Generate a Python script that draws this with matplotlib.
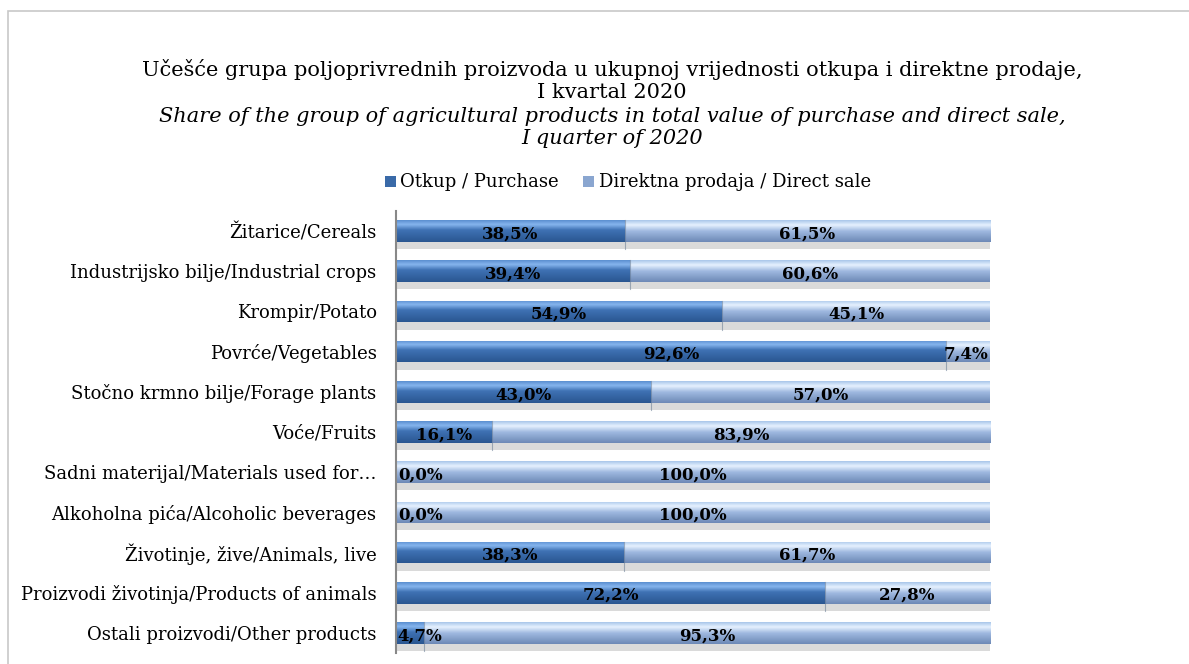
import matplotlib.pyplot as plt
import numpy as np

categories = ["Žitarice/Cereals", "Industrijsko bilje/Industrial crops", "Krompir/Potato",
              "Povrće/Vegetables", "Stočno krmno bilje/Forage plants", "Voće/Fruits",
              "Sadni materijal/Materials used for…", "Alkoholna pića/Alcoholic beverages",
              "Životinje, žive/Animals, live", "Proizvodi životinja/Products of animals",
              "Ostali proizvodi/Other products"]
purchase = [38.5, 39.4, 54.9, 92.6, 43.0, 16.1, 0.0, 0.0, 38.3, 72.2, 4.7]
direct = [61.5, 60.6, 45.1, 7.4, 57.0, 83.9, 100.0, 100.0, 61.7, 27.8, 95.3]

plt.rcParams['font.family'] = ['DejaVu Serif']

fig = plt.figure(figsize=(11.89, 6.64), dpi=100)
ax = fig.add_axes([396 / 1189, 11 / 664, 594 / 1189, 442 / 664])

# frame around the whole chart
fig.patches.append(plt.Rectangle((8 / 1189, -0.01), 1.2, 1 - 11 / 664 + 0.01, transform=fig.transFigure,
                                 fill=False, edgecolor="#c8c8c8", linewidth=1.2))

def vgrad(stops, n=64):
    pos = [s[0] for s in stops]
    cols = np.array([plt.matplotlib.colors.to_rgb(s[1]) for s in stops])
    t = np.linspace(0, 1, n)
    out = np.stack([np.interp(t, pos, cols[:, k]) for k in range(3)], axis=1)
    return out[:, None, :]

g_purch = vgrad([(0, "#5b8fd0"), (0.2, "#86b5ee"), (0.45, "#3f72b4"), (1, "#2a5690")])
g_direct = vgrad([(0, "#a9c6ea"), (0.22, "#e6f1ff"), (0.5, "#9fb9e0"), (1, "#6d89b6")])

def fmt(v):
    return f"{v:.1f}%".replace(".", ",")

y = np.arange(len(categories))
h = 0.54
sh = 0.18
for i in range(len(categories)):
    left = 0
    for val, grad in ((purchase[i], g_purch), (direct[i], g_direct)):
        if val > 0:
            # shadow under the bar
            ax.add_patch(plt.Rectangle((left, y[i] + h / 2), val, sh, facecolor="#dadada",
                                       edgecolor="none", zorder=1))
            rect = plt.Rectangle((left, y[i] - h / 2), val, h, facecolor="none", edgecolor="none")
            ax.add_patch(rect)
            im = ax.imshow(grad, extent=(left, left + val, y[i] + h / 2, y[i] - h / 2),
                           aspect="auto", zorder=2, interpolation="bilinear")
            im.set_clip_path(rect)
            if left > 0:
                ax.plot([left, left], [y[i] - h / 2, y[i] + h / 2 + sh], color="#5a6f8a",
                        linewidth=0.8, alpha=0.5, zorder=3)
        left += val
    p, d = purchase[i], direct[i]
    ty = y[i] + 0.07
    if p < 8:
        ax.text(0.3, ty, fmt(p), ha="left", va="center", fontsize=12, fontweight="bold", zorder=4)
    else:
        ax.text(p / 2, ty, fmt(p), ha="center", va="center", fontsize=12, fontweight="bold", zorder=4)
    if d < 8:
        ax.text(100 - 0.2, ty, fmt(d), ha="right", va="center", fontsize=12, fontweight="bold", zorder=4)
    else:
        ax.text(p + d / 2, ty, fmt(d), ha="center", va="center", fontsize=12, fontweight="bold", zorder=4)

ax.set_xlim(0, 100)
ax.set_ylim(len(categories) - 0.5, -0.5)
ax.set_yticks(y)
ax.set_yticklabels(categories, fontsize=13)
ax.tick_params(axis="y", length=0, pad=14)
ax.set_xticks([])
for s in ("top", "right", "bottom"):
    ax.spines[s].set_visible(False)
ax.spines["left"].set_color("#888888")
ax.spines["left"].set_linewidth(1.5)

tx = 612 / 1189
fig.text(tx, 1 - 69 / 664, "Učešće grupa poljoprivrednih proizvoda u ukupnoj vrijednosti otkupa i direktne prodaje,",
         ha="center", va="center", fontsize=15)
fig.text(tx, 1 - 93 / 664, "I kvartal 2020", ha="center", va="center", fontsize=15)
fig.text(tx, 1 - 116 / 664, "Share of the group of agricultural products in total value of purchase and direct sale,",
         ha="center", va="center", fontsize=15, style="italic")
fig.text(tx, 1 - 139 / 664, "I quarter of 2020", ha="center", va="center", fontsize=15, style="italic")

# legend
fig.patches.append(plt.Rectangle((385 / 1189, 1 - 187 / 664), 11 / 1189, 11 / 664, transform=fig.transFigure,
                                 facecolor="#3a6aa8", edgecolor="none"))
fig.text(400 / 1189, 1 - 182 / 664, "Otkup / Purchase", ha="left", va="center", fontsize=13)
fig.patches.append(plt.Rectangle((583 / 1189, 1 - 187 / 664), 11 / 1189, 11 / 664, transform=fig.transFigure,
                                 facecolor="#8aa6d0", edgecolor="none"))
fig.text(599 / 1189, 1 - 182 / 664, "Direktna prodaja / Direct sale", ha="left", va="center", fontsize=13)

fig.savefig("out.png", dpi=100)
